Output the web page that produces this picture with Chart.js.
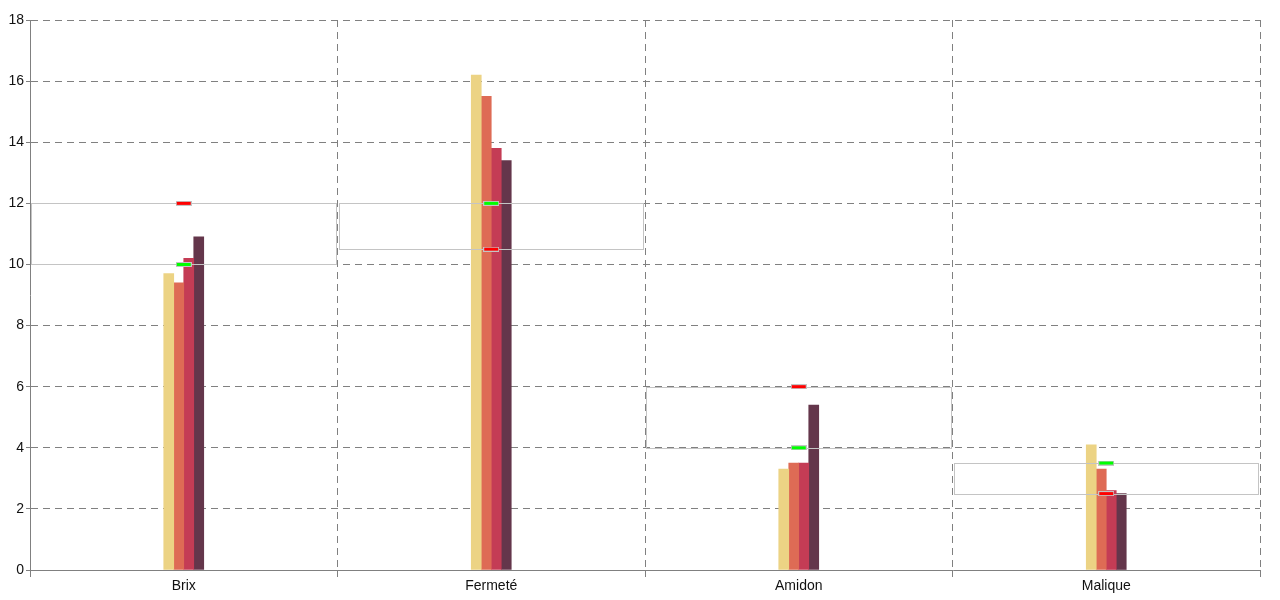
<!DOCTYPE html>
<html>
<head>
<meta charset="utf-8">
<script src="https://cdn.jsdelivr.net/npm/chart.js@4/dist/chart.umd.min.js"></script>
<style>
html,body{margin:0;padding:0;background:#fff;}
#wrap{width:1280px;height:600px;position:relative;}
</style>
</head>
<body>
<div id="wrap"><canvas id="c" width="1280" height="600"></canvas></div>
<script>
const categories = ['Brix', 'Fermeté', 'Amidon', 'Malique'];
const serie1 = [9.7, 16.2, 3.3, 4.1];
const serie2 = [9.4, 15.5, 3.5, 3.3];
const serie3 = [10.2, 13.8, 3.5, 2.6];
const serie4 = [10.9, 13.4, 5.4, 2.5];
const greenTarget = [10, 12, 4, 3.5];
const redTarget = [12, 10.5, 6, 2.5];
const yMin = 0, yMax = 18, yStep = 2;

const barColors = ['#ecd384', '#de6b55', '#c43c55', '#64364b'];

function markerImage(fill) {
  const cv = document.createElement('canvas');
  cv.width = 16; cv.height = 5;
  const g = cv.getContext('2d');
  g.fillStyle = '#c4c4c4';
  g.fillRect(0, 0, 16, 5);
  g.fillStyle = fill;
  g.fillRect(1, 1, 14, 3);
  return cv;
}

const boxPlugin = {
  id: 'targetBoxes',
  afterDatasetDraw(chart, args) {
    if (args.index !== 0) return;
    const x = chart.scales.x, y = chart.scales.y;
    const ctx = chart.ctx;
    const w = x.width / categories.length;
    ctx.save();
    ctx.strokeStyle = '#c4c4c4';
    ctx.lineWidth = 1;
    categories.forEach((c, i) => {
      const cx = x.getPixelForValue(i);
      const left = Math.round(cx - w / 2) + 1.5;
      const right = Math.round(cx + w / 2) - 1.5;
      const yA = Math.round(y.getPixelForValue(Math.max(greenTarget[i], redTarget[i]))) + 0.5;
      const yB = Math.round(y.getPixelForValue(Math.min(greenTarget[i], redTarget[i]))) + 0.5;
      ctx.strokeRect(left, yA, right - left, yB - yA);
    });
    ctx.restore();
  }
};

const tickFont = { family: 'Liberation Sans, Arial, sans-serif', size: 14 };

new Chart(document.getElementById('c'), {
  type: 'bar',
  data: {
    labels: categories,
    datasets: [
      { label: 'S1', data: serie1, backgroundColor: barColors[0], barThickness: 10, order: 2 },
      { label: 'S2', data: serie2, backgroundColor: barColors[1], barThickness: 10, order: 2 },
      { label: 'S3', data: serie3, backgroundColor: barColors[2], barThickness: 10, order: 2 },
      { label: 'S4', data: serie4, backgroundColor: barColors[3], barThickness: 10, order: 2 },
      { type: 'line', label: 'Min', data: greenTarget, showLine: false, pointStyle: markerImage('#00ff00'), pointRadius: 3, order: 1 },
      { type: 'line', label: 'Max', data: redTarget, showLine: false, pointStyle: markerImage('#ff0000'), pointRadius: 3, order: 1 }
    ]
  },
  options: {
    responsive: false,
    animation: false,
    events: [],
    layout: { padding: { top: 20, right: 20, left: 0, bottom: 0 } },
    plugins: { legend: { display: false }, tooltip: { enabled: false } },
    scales: {
      x: {
        offset: true,
        grid: { offset: true, color: '#808080', tickColor: '#808080', tickLength: 7, borderDash: [7, 5], tickBorderDash: [] },
        border: { color: '#808080', dash: [7, 5] },
        ticks: { color: '#111', font: tickFont, padding: 1, maxRotation: 0 },
        afterFit(s) { s.height = 30; }
      },
      y: {
        min: yMin, max: yMax,
        grid: { color: '#808080', tickColor: '#808080', drawTicks: true, tickLength: 4, borderDash: [7, 5], tickBorderDash: [] },
        border: { color: '#808080', dash: [7, 5] },
        ticks: { stepSize: yStep, color: '#111', font: tickFont, padding: 2 },
        afterFit(s) { s.width = 30; }
      }
    }
  },
  plugins: [boxPlugin]
});
</script>
</body>
</html>
